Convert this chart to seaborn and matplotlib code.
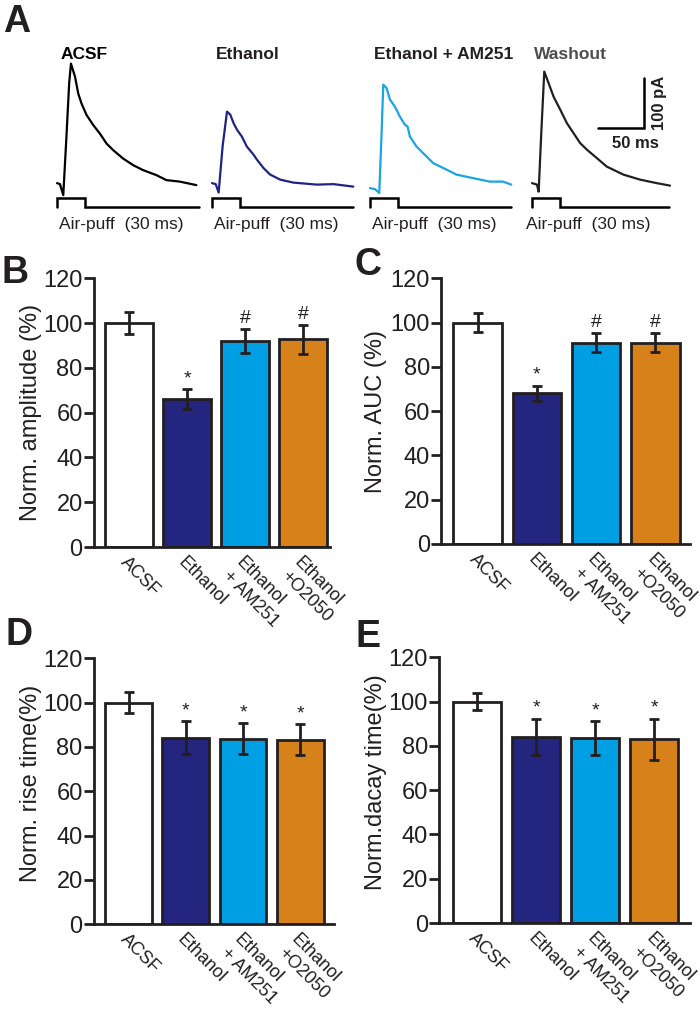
import matplotlib
matplotlib.use("Agg")
import matplotlib.pyplot as plt
import matplotlib.transforms as mtransforms
import seaborn as sns

sns.set_theme(style="white")
plt.rcParams["font.family"] = ["Liberation Sans", "DejaVu Sans"]

INK = "#231f20"

# ---- panel A: example traces, time (ms) vs current (pA, baseline = 0) ----
trace_names = ["ACSF", "Ethanol", "Ethanol + AM251", "Washout"]
trace_colors = ["#000000", "#1f2383", "#1aa3e6", "#231f20"]
label_colors = ["#000000", "#231f20", "#231f20", "#4d4d4d"]

acsf_t = [0, 3.2, 6.7, 10, 13, 14.9, 19.2, 22.7, 26.2, 31.6, 38.7, 45.8,
          52.9, 59.9, 70.6, 81.2, 91.8, 106, 116.7, 131, 148.6]
acsf_i = [0, -2, -24, 90, 200, 239, 213, 179, 159, 136, 116, 99,
          79, 66, 49, 36, 26, 16, 6, 3, -4]
eth_t = [0, 4, 7.1, 11.3, 16, 19.5, 23, 26.6, 31.9, 37.2, 44.3, 47.9,
         55, 62.1, 72.7, 86.9, 111.7, 129.4, 150.7]
eth_i = [0, -2, -19, 73, 143, 137, 120, 107, 93, 73, 57, 47,
         30, 17, 7, 1, -3, -2, -7]
am_t = [0, 5.3, 9.9, 12.1, 14.2, 17.7, 21.3, 26.6, 31.9, 37.2, 40.1, 42.6,
        49.7, 56.7, 67.4, 81.6, 92.2, 110, 127.7, 141.9, 150.7]
am_i = [-10, -12, -20, 87, 197, 190, 167, 153, 133, 117, 113, 93,
        73, 60, 40, 27, 17, 10, 3, 3, -3]
wash_t = [0, 5.3, 7.1, 9.9, 13.1, 17.7, 23, 30.1, 37.2, 44.3, 51.4, 58.5,
          69.2, 79.8, 97.5, 115.2, 133, 147.2]
wash_i = [0, -3, -17, 100, 223, 200, 173, 147, 120, 100, 80, 67,
          50, 33, 17, 7, 0, -5]

trace_t = [acsf_t, eth_t, am_t, wash_t]
trace_i = [acsf_i, eth_i, am_i, wash_i]

puff_len = 30          # ms
puff_end = [151, 150, 150, 146]
puff_low, puff_high = -48, -30

# ---- panels B-E: normalised values (mean, sem) ----
groups = ["ACSF", "Ethanol", "Ethanol\n+ AM251", "Ethanol\n+O2050"]
bar_colors = ["#ffffff", "#23257f", "#009fe3", "#d7811a"]

amp_mean = [100, 66, 92, 92.8]
amp_sem = [4.8, 4.5, 5.3, 6.4]
amp_marks = ["", "*", "#", "#"]

auc_mean = [100, 68, 91, 91]
auc_sem = [4.3, 3.5, 4.3, 4.4]
auc_marks = ["", "*", "#", "#"]

rise_mean = [100, 84.2, 83.8, 83.2]
rise_sem = [4.8, 7.4, 6.9, 7.0]
rise_marks = ["", "*", "*", "*"]

decay_mean = [100, 84.1, 83.5, 83]
decay_sem = [3.8, 8.3, 7.7, 9.2]
decay_marks = ["", "*", "*", "*"]


def trace_panel(fig, k, onset_px):
    ax = fig.add_axes([(onset_px - 4.7) / 700, 0.789, 0.2143, 0.1584])
    sns.lineplot(x=trace_t[k], y=trace_i[k], sort=False, estimator=None,
                 color=trace_colors[k], linewidth=1.6, ax=ax)
    end = puff_end[k]
    ax.plot([0, 0, puff_len, puff_len, end],
            [puff_low, puff_high, puff_high, puff_low, puff_low],
            color="#000000", lw=1.8, solid_joinstyle="miter")
    ax.text(4 if k < 3 else 2, 258, trace_names[k], fontsize=12.5,
            fontweight="bold", color=label_colors[k], va="center")
    ax.text(2 if k < 3 else -6, -82, "Air-puff  (30 ms)", fontsize=12.5,
            color=INK, va="center")
    ax.set_xlim(-5, 155)
    ax.set_ylim(-60, 260)
    ax.axis("off")
    return ax


def bar_panel(fig, rect, xlim, means, sems, marks, ylabel, lab_x, lab_y):
    ax = fig.add_axes(rect)
    sns.barplot(x=groups, y=means, hue=groups, palette=bar_colors,
                legend=False, saturation=1, width=0.82, edgecolor=INK,
                linewidth=2, errorbar=None, ax=ax)
    ax.errorbar(range(len(groups)), means, yerr=sems, fmt="none",
                ecolor=INK, elinewidth=2, capsize=3.5, capthick=2)
    for i, m in enumerate(marks):
        if m:
            ax.annotate(m, (i, means[i] + sems[i]), xytext=(0, 1.5),
                        textcoords="offset points", ha="center",
                        va="bottom", fontsize=14, color=INK)
    ax.set_xlim(*xlim)
    ax.set_ylim(0, 120)
    ax.set_yticks(range(0, 121, 20))
    ax.set_xticks(range(len(groups)))
    ax.set_xticklabels(groups, rotation=-45, ha="left", va="top",
                       rotation_mode="anchor", fontsize=13, color=INK)
    shift = mtransforms.ScaledTranslation(1.5 / 72, 0, fig.dpi_scale_trans)
    for lab in ax.get_xticklabels():
        lab.set_transform(lab.get_transform() + shift)
    ax.tick_params(axis="x", length=0, pad=5)
    ax.tick_params(axis="y", labelsize=17, length=7, width=2, pad=1,
                   colors=INK, direction="out", left=True)
    ax.set_xlabel("")
    ax.set_ylabel(ylabel, fontsize=17, color=INK)
    ax.yaxis.set_label_coords(lab_x, lab_y)
    sns.despine(ax=ax)
    for s in ["left", "bottom"]:
        ax.spines[s].set_linewidth(2)
        ax.spines[s].set_color(INK)
    return ax


fig = plt.figure(figsize=(7, 10.1), dpi=100)

for k, onset in enumerate([57, 212, 370, 532]):
    ax = trace_panel(fig, k, onset)
    if k == 3:
        # scale bar: 50 ms, 100 pA
        ax.plot([70, 120, 120], [110, 110, 210], color="#000000", lw=1.8,
                solid_joinstyle="miter", clip_on=False)
        ax.text(110, 80, "50 ms", fontsize=12, fontweight="bold",
                ha="center", va="center", color=INK)
        ax.text(136, 160, "100 pA", fontsize=12, fontweight="bold",
                rotation=90, ha="center", va="center", color=INK)

bar_panel(fig, [0.134, 0.4584, 0.337, 0.266], (-0.61, 3.46),
          amp_mean, amp_sem, amp_marks, "Norm. amplitude (%)", -0.22, 0.5)
bar_panel(fig, [0.630, 0.4614, 0.356, 0.263], (-0.62, 3.59),
          auc_mean, auc_sem, auc_marks, "Norm. AUC (%)", -0.215, 0.5)
bar_panel(fig, [0.134, 0.0851, 0.343, 0.263], (-0.61, 3.59),
          rise_mean, rise_sem, rise_marks, "Norm. rise time(%)", -0.215, 0.53)
bar_panel(fig, [0.627, 0.0861, 0.359, 0.263], (-0.65, 3.61),
          decay_mean, decay_sem, decay_marks, "Norm.dacay time(%)", -0.205, 0.53)

# panel letters (x px, y px from top)
for letter, x, y in [("A", 3, 22), ("B", 2, 273), ("C", 355, 265),
                     ("D", 5, 635), ("E", 356, 637)]:
    fig.text(x / 700, 1 - y / 1010, letter, fontsize=27, fontweight="bold",
             ha="left", va="center", color=INK)

fig.savefig("out.png", dpi=100)
